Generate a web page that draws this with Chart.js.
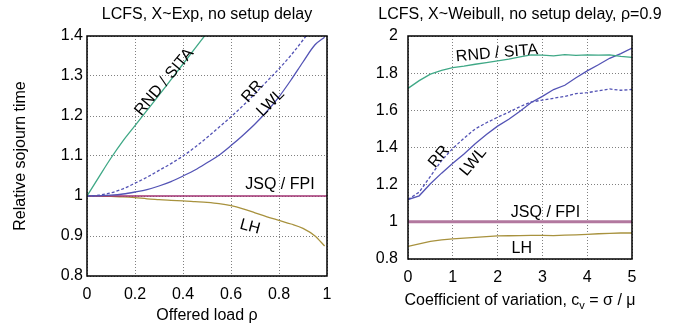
<!DOCTYPE html>
<html>
<head>
<meta charset="utf-8">
<script src="https://cdn.jsdelivr.net/npm/chart.js@4.4.1/dist/chart.umd.min.js"></script>
<style>
  body { margin: 0; background: #fff; }
  .linha { display: flex; }
  canvas { display: block; }
</style>
</head>
<body>
<div class="linha">
  <canvas id="graficoExp" width="345" height="334"></canvas>
  <canvas id="graficoWeibull" width="346" height="334"></canvas>
</div>
<script>
// ---- gráfico da esquerda: X~Exp, eixo x = carga oferecida rho
const cargaRho   = [0, 0.05, 0.1, 0.15, 0.2, 0.25, 0.3, 0.35, 0.4, 0.45, 0.5, 0.55, 0.6, 0.65, 0.7, 0.75, 0.8, 0.85, 0.9, 0.95, 0.99];
const rndSitaExp = [1.0, 1.048, 1.095, 1.138, 1.176, 1.214, 1.252, 1.291, 1.330, 1.369, 1.408, null, null, null, null, null, null, null, null, null, null];
const rrExp      = [1.0, 1.002, 1.008, 1.018, 1.032, 1.047, 1.064, 1.081, 1.100, 1.122, 1.146, 1.172, 1.198, 1.226, 1.256, 1.287, 1.318, 1.352, 1.390, 1.430, null];
const lwlExp     = [1.0, 1.0005, 1.002, 1.005, 1.010, 1.016, 1.025, 1.036, 1.050, 1.065, 1.083, 1.102, 1.126, 1.152, 1.180, 1.212, 1.248, 1.290, 1.335, 1.378, 1.397];
const lhExp      = [1.0, 1.0, 0.999, 0.998, 0.996, 0.993, 0.991, 0.989, 0.988, 0.986, 0.984, 0.981, 0.976, 0.968, 0.958, 0.948, 0.939, 0.930, 0.919, 0.900, 0.875];
const jsqRho     = [0, 1];
const jsqFpiExp  = [1, 1];
const ticksXExp  = [0, 0.2, 0.4, 0.6, 0.8, 1];
const ticksYExp  = [0.8, 0.9, 1, 1.1, 1.2, 1.3, 1.4];

// ---- gráfico da direita: X~Weibull, rho=0.9, eixo x = coeficiente de variação
const coefVar        = [0, 0.25, 0.5, 0.75, 1, 1.25, 1.5, 1.75, 2, 2.25, 2.5, 2.75, 3, 3.25, 3.5, 3.75, 4, 4.25, 4.5, 4.75, 5];
const rndSitaWeibull = [1.718, 1.760, 1.795, 1.815, 1.830, 1.838, 1.848, 1.857, 1.866, 1.875, 1.888, 1.898, 1.897, 1.893, 1.900, 1.896, 1.898, 1.897, 1.898, 1.890, 1.885];
const rrWeibull      = [1.120, 1.160, 1.245, 1.330, 1.395, 1.450, 1.500, 1.533, 1.563, 1.590, 1.620, 1.645, 1.655, 1.665, 1.675, 1.690, 1.695, 1.705, 1.715, 1.708, 1.712];
const lwlWeibull     = [1.120, 1.140, 1.205, 1.262, 1.315, 1.365, 1.420, 1.470, 1.515, 1.552, 1.595, 1.642, 1.675, 1.712, 1.735, 1.775, 1.812, 1.845, 1.880, 1.905, 1.935];
const lhWeibull      = [0.868, 0.882, 0.895, 0.903, 0.908, 0.912, 0.916, 0.920, 0.924, 0.925, 0.926, 0.927, 0.927, 0.926, 0.928, 0.930, 0.933, 0.936, 0.938, 0.940, 0.940];
const jsqCv          = [0, 5];
const jsqFpiWeibull  = [1, 1];
const ticksXWeibull  = [0, 1, 2, 3, 4, 5];
const ticksYWeibull  = [0.8, 1, 1.2, 1.4, 1.6, 1.8, 2];

const fonte = "'Liberation Sans', Arial, sans-serif";
Chart.defaults.font.family = fonte;
Chart.defaults.font.size = 16;
Chart.defaults.color = "#000";

const cores = {
  rnd: "#3fa886",
  azul: "#5353b5",
  jsq: "#a23272",
  jsqLarga: "#b2789f",
  lh: "#a8923e"
};

function pares(xs, ys) {
  return xs.map((x, i) => ({ x: x, y: ys[i] }));
}

function serie(xs, ys, cor, extra) {
  return Object.assign({
    data: pares(xs, ys),
    borderColor: cor,
    borderWidth: 1.3,
    pointRadius: 0,
    fill: false,
    spanGaps: false
  }, extra || {});
}

// rótulo do tick sem zeros sobrando (1 e não 1.0)
const formatoTick = v => String(Math.round(v * 100) / 100);

// textos dentro da área do gráfico, posicionados em coordenadas dos dados
const rotulosPlugin = {
  id: "rotulos",
  afterDraw(chart, args, opts) {
    const ctx = chart.ctx;
    const area = chart.chartArea;
    const sx = chart.scales.x, sy = chart.scales.y;

    // moldura preta
    ctx.save();
    ctx.strokeStyle = "#000";
    ctx.lineWidth = 1.5;
    ctx.strokeRect(area.left, area.top, area.right - area.left, area.bottom - area.top);

    ctx.fillStyle = "#000";
    ctx.font = "16px " + fonte;
    ctx.textAlign = "center";
    ctx.textBaseline = "alphabetic";
    ctx.fillText(opts.titulo, (area.left + area.right) / 2, 18.5);

    ctx.textBaseline = "middle";
    (opts.textos || []).forEach(t => {
      ctx.save();
      ctx.translate(sx.getPixelForValue(t.x), sy.getPixelForValue(t.y));
      ctx.rotate(t.rot * Math.PI / 180);
      ctx.fillText(t.texto, 0, 0);
      ctx.restore();
    });

    // título do eixo x com subscrito (c_v)
    if (opts.tituloX) {
      const partes = opts.tituloX;
      const fontes = partes.map(p => (p.sub ? "11px " : "16px ") + fonte);
      let largura = 0;
      const larguras = partes.map((p, i) => { ctx.font = fontes[i]; const w = ctx.measureText(p.t).width; largura += w; return w; });
      let x = (area.left + area.right) / 2 - largura / 2;
      ctx.textAlign = "left";
      ctx.textBaseline = "alphabetic";
      partes.forEach((p, i) => {
        ctx.font = fontes[i];
        ctx.fillText(p.t, x, opts.baseX + (p.sub ? 4 : 0));
        x += larguras[i];
      });
    }
    ctx.restore();
  }
};

function eixos(cfg) {
  return {
    x: {
      type: "linear",
      min: cfg.xMin, max: cfg.xMax,
      afterBuildTicks: s => { s.ticks = cfg.ticksX.map(v => ({ value: v })); },
      afterFit: s => { s.height = cfg.alturaX; },
      ticks: { padding: 8.6, color: "#000", font: { size: 16 }, callback: formatoTick },
      grid: { color: "#808080", lineWidth: 1, drawTicks: false },
      border: { display: false, dash: [1, 2] },
      title: cfg.tituloX ? { display: true, text: cfg.tituloX, color: "#000", font: { size: 16 }, padding: { top: 0, bottom: 8.6 } } : { display: false }
    },
    y: {
      type: "linear",
      min: cfg.yMin, max: cfg.yMax,
      afterBuildTicks: s => { s.ticks = cfg.ticksY.map(v => ({ value: v })); },
      afterFit: s => { s.width = cfg.larguraY; },
      ticks: { padding: cfg.padY, color: "#000", font: { size: 16 }, callback: formatoTick },
      grid: { color: "#808080", lineWidth: 1, drawTicks: false },
      border: { display: false, dash: [1, 2] },
      title: cfg.tituloY ? { display: true, text: cfg.tituloY, color: "#000", font: { size: 16 }, padding: { top: 11.2, bottom: 0 } } : { display: false }
    }
  };
}

new Chart(document.getElementById("graficoExp"), {
  type: "line",
  data: {
    datasets: [
      serie(cargaRho, rndSitaExp, cores.rnd, { cubicInterpolationMode: "monotone" }),
      serie(cargaRho, rrExp, cores.azul, { borderDash: [3, 2], cubicInterpolationMode: "monotone" }),
      serie(cargaRho, lwlExp, cores.azul, { cubicInterpolationMode: "monotone" }),
      serie(jsqRho, jsqFpiExp, cores.jsq, { borderWidth: 1.5 }),
      serie(cargaRho, lhExp, cores.lh, { cubicInterpolationMode: "monotone" })
    ]
  },
  options: {
    responsive: false,
    animation: false,
    layout: { padding: { top: 36, right: 18, bottom: 0, left: 0 } },
    scales: eixos({
      xMin: 0, xMax: 1, yMin: 0.8, yMax: 1.4,
      ticksX: ticksXExp, ticksY: ticksYExp,
      alturaX: 58, larguraY: 87, padY: 4,
      tituloX: "Offered load ρ", tituloY: "Relative sojourn time"
    }),
    plugins: {
      legend: { display: false },
      tooltip: { enabled: false },
      rotulos: {
        titulo: "LCFS, X~Exp, no setup delay",
        textos: [
          { texto: "RND / SITA", x: 0.322, y: 1.285, rot: -50 },
          { texto: "RR", x: 0.689, y: 1.261, rot: -48 },
          { texto: "LWL", x: 0.765, y: 1.233, rot: -45 },
          { texto: "JSQ / FPI", x: 0.804, y: 1.029, rot: 0 },
          { texto: "LH", x: 0.679, y: 0.923, rot: 15 }
        ]
      }
    }
  },
  plugins: [rotulosPlugin]
});

new Chart(document.getElementById("graficoWeibull"), {
  type: "line",
  data: {
    datasets: [
      serie(coefVar, rndSitaWeibull, cores.rnd),
      serie(coefVar, rrWeibull, cores.azul, { borderDash: [3, 2] }),
      serie(coefVar, lwlWeibull, cores.azul),
      serie(jsqCv, jsqFpiWeibull, cores.jsqLarga, { borderWidth: 3 }),
      serie(coefVar, lhWeibull, cores.lh)
    ]
  },
  options: {
    responsive: false,
    animation: false,
    layout: { padding: { top: 36, right: 59, bottom: 0, left: 0 } },
    scales: eixos({
      xMin: 0, xMax: 5, yMin: 0.8, yMax: 2,
      ticksX: ticksXWeibull, ticksY: ticksYWeibull,
      alturaX: 75, larguraY: 63, padY: 10
    }),
    plugins: {
      legend: { display: false },
      tooltip: { enabled: false },
      rotulos: {
        titulo: "LCFS, X~Weibull, no setup delay, ρ=0.9",
        tituloX: [
          { t: "Coefficient of variation, c" },
          { t: "v", sub: true },
          { t: " = σ / μ" }
        ],
        baseX: 305,
        textos: [
          { texto: "RND / SITA", x: 1.987, y: 1.907, rot: -5 },
          { texto: "RR", x: 0.692, y: 1.35, rot: -50 },
          { texto: "LWL", x: 1.458, y: 1.323, rot: -50 },
          { texto: "JSQ / FPI", x: 3.07, y: 1.051, rot: 0 },
          { texto: "LH", x: 2.54, y: 0.857, rot: 0 }
        ]
      }
    }
  },
  plugins: [rotulosPlugin]
});
</script>
</body>
</html>
